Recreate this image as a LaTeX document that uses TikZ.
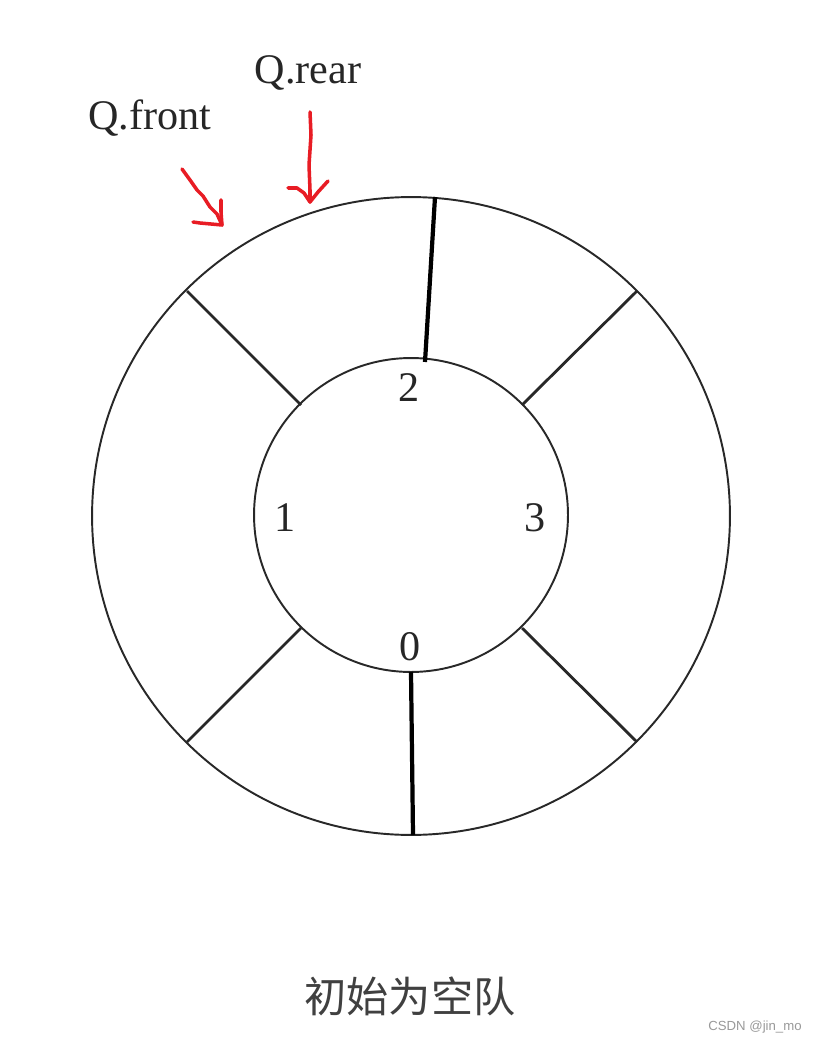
\documentclass[tikz,border=0pt]{standalone}
\usepackage{fontspec}
\setmainfont{Liberation Serif}
\newfontfamily\cjk{Noto Sans CJK SC}
\newfontfamily\wmfont{Liberation Sans}
\definecolor{penred}{RGB}{232,28,36}
\definecolor{ringgray}{RGB}{40,40,40}
\tikzset{
	ring/.style={draw=ringgray, line width=1.1pt},
	spoke/.style={draw=ringgray, line width=1.6pt},
	bigspoke/.style={line width=2.4pt},
	pen/.style={draw=penred, line width=2pt, line cap=round, line join=round},
	lbl/.style={font=\fontsize{24}{28}\selectfont, text=black!85, inner sep=0pt}
}
\begin{document}
\begin{tikzpicture}[x=0.02cm,y=-0.02cm]
	\useasboundingbox[fill=white] (0,0) rectangle (815,1043);
	
	\draw[ring] (411,516) circle[radius=6.38cm];
	\draw[ring] (411,515) circle[radius=3.14cm];
	
	\coordinate (in2) at (425,362);
	\coordinate (out2) at (435,197);
	\coordinate (in0) at (411,672);
	\coordinate (out0) at (413,835);
	\coordinate (inNW) at (301,405);
	\coordinate (outNW) at (187,291);
	\coordinate (inNE) at (522,405);
	\coordinate (outNE) at (637,291);
	\coordinate (inSW) at (301,628);
	\coordinate (outSW) at (187,742);
	\coordinate (inSE) at (522,628);
	\coordinate (outSE) at (637,742);
	
	\draw[bigspoke] (in2) -- (out2);
	\draw[bigspoke] (in0) -- (out0);
	\draw[spoke] 	(inNW) edge (outNW)
	(inNE) edge (outNE)
	(inSW) edge (outSW)
	(inSE) edge (outSE);
	
	\node[lbl] (n2) at (409,388) {2};
	\node[lbl] (n1) at (285,518) {1};
	\node[lbl] (n3) at (535,518) {3};
	\node[lbl] (n0) at (410,647) {0};
	
	\node[lbl] (front) at (150,118) {Q.front};
	\node[lbl] (rear) at (308,73) {Q.rear};
	
	% hand drawn red arrows
	\coordinate (fronttail) at (182,169);
	\coordinate (fronttip) at (222,225);
	\coordinate (frontbarbA) at (193,222);
	\coordinate (frontbarbB) at (221,200);
	\draw[pen] (fronttail) -- (190,180) -- (197,190) -- (203,196) -- (210,207) -- (217,214) -- (fronttip);
	\draw[pen] (frontbarbA) -- (200,223) -- (fronttip) -- (221,212) -- (frontbarbB);
	
	\coordinate (reartail) at (310,112);
	\coordinate (reartip) at (310,202);
	\coordinate (rearbarbA) at (288,188);
	\coordinate (rearbarbB) at (328,181);
	\draw[pen] (reartail) -- (311,135) -- (309,165) -- (310,190) -- (reartip);
	\draw[pen] (rearbarbA) -- (297,188) -- (304,193) -- (reartip) -- (318,192) -- (rearbarbB);
	
	\node[font=\cjk\fontsize{24}{28}\selectfont, text=black!75] (caption) at (410,996) {初始为空队};
	\node[font=\wmfont\fontsize{7.5}{9}\selectfont, text=black!40] (mark) at (755,1027) {CSDN @jin\_mo};
\end{tikzpicture}
\end{document}
